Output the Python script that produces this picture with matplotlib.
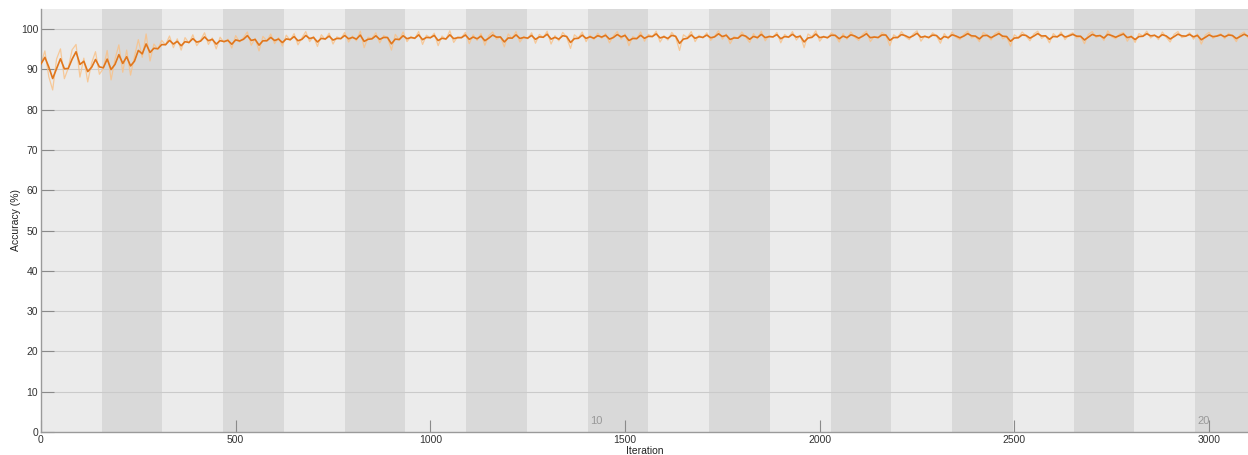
import numpy as np
import matplotlib
matplotlib.use('Agg')
import matplotlib.pyplot as plt

plt.rcParams['font.family'] = ['Liberation Sans', 'DejaVu Sans']

# 每个 epoch 的迭代次数
iters_per_epoch = 156
num_epochs = 20
sample_step = 10

# 训练准确率 (每 10 次迭代一个点)
accuracy = [
    91.4, 94.6, 88.2, 84.9, 92.6, 95.1, 87.7, 90.3, 94.9, 96.2, 88.1, 92.8, 86.9, 91.6, 94.4, 88.8,
    90.2, 94.7, 87.4, 92.5, 96.1, 89.3, 94.8, 88.6, 93.2, 97.4, 93.0, 98.8, 92.1, 96.3, 95.0, 97.2,
    96.1, 98.3, 95.4, 97.6, 94.8, 97.9, 96.5, 98.6, 95.9, 97.3, 99.1, 96.2, 97.8, 95.1, 98.0, 96.7,
    97.5, 95.3, 98.4, 96.8, 97.9, 99.3, 96.0, 97.7, 94.6, 98.2, 97.1, 98.8, 96.4, 97.9, 95.8, 98.5,
    97.2, 98.9, 96.1, 97.8, 99.4, 96.9, 98.2, 95.7, 98.6, 97.4, 99.0, 96.3, 98.1, 97.6, 99.2, 96.8,
    98.3, 97.1, 99.5, 95.4, 98.0, 97.7, 99.1, 96.6, 98.4, 97.9, 94.8, 98.7, 97.3, 99.3, 96.9, 98.2,
    97.6, 99.4, 96.2, 98.5, 97.8, 99.0, 95.9, 98.3, 97.4, 99.6, 96.7, 98.1, 97.9, 99.2, 96.4, 98.6,
    97.2, 98.9, 96.0, 98.4, 99.3, 97.5, 98.1, 95.6, 98.8, 97.7, 99.4, 96.8, 98.2, 97.6, 99.1, 96.5,
    98.7, 97.9, 99.5, 96.3, 98.4, 97.1, 99.2, 98.0, 95.2, 98.6, 97.8, 99.3, 96.9, 98.5, 97.4, 99.0,
    97.7, 98.9, 96.6, 98.3, 99.4, 97.5, 98.8, 95.9, 98.2, 97.6, 99.3, 97.0, 98.7, 98.1, 99.5, 96.8,
    98.4, 97.3, 99.2, 98.0, 94.7, 98.6, 97.9, 99.4, 96.9, 98.5, 97.8, 99.1, 97.2, 98.3, 99.6, 97.5,
    98.8, 96.4, 98.2, 97.7, 99.3, 98.0, 96.7, 98.9, 97.6, 99.5, 97.1, 98.4, 98.0, 99.2, 96.6, 98.7,
    97.9, 99.4, 97.3, 98.5, 95.4, 98.8, 98.1, 99.6, 97.0, 98.3, 97.7, 99.1, 98.4, 96.8, 98.9, 97.5,
    99.3, 98.0, 97.2, 98.7, 99.5, 96.9, 98.2, 97.8, 99.2, 98.5, 95.9, 98.6, 97.9, 99.4, 98.1, 97.4,
    98.8, 99.6, 97.0, 98.4, 97.7, 99.1, 98.3, 96.5, 98.9, 97.6, 99.3, 98.0, 97.4, 98.7, 99.5, 97.8,
    98.2, 96.9, 99.2, 98.5, 97.3, 98.9, 99.4, 97.6, 98.1, 95.8, 98.6, 97.9, 99.3, 98.3, 97.1, 98.8,
    99.5, 97.7, 98.4, 96.6, 98.9, 98.0, 99.3, 97.4, 98.6, 99.1, 97.8, 98.2, 96.4, 98.7, 99.4, 97.9,
    98.5, 97.2, 99.6, 98.1, 97.6, 98.8, 99.2, 97.0, 98.4, 96.7, 98.9, 98.3, 99.5, 97.8, 98.6, 97.4,
    99.3, 98.0, 96.8, 98.7, 99.4, 97.9, 98.2, 99.1, 97.5, 98.8, 96.3, 98.5, 99.2, 97.7, 98.4, 98.9,
    97.6, 99.0, 98.3, 96.9, 98.7, 99.3, 97.8, 98.5,
]
epoch_labels = [10, 20]

iterations = np.arange(len(accuracy)) * sample_step

# 指数平滑曲线
smooth = []
s = accuracy[0]
for a in accuracy:
    s = 0.5 * s + 0.5 * a
    smooth.append(s)

fig = plt.figure(figsize=(12.48, 4.55), dpi=100)
ax = fig.add_axes([41 / 1248, 23 / 455, 1 - 41 / 1248, 423 / 455])

# epoch 背景条纹
for e in range(num_epochs):
    color = '#ebebeb' if e % 2 == 0 else '#d9d9d9'
    ax.axvspan(e * iters_per_epoch, (e + 1) * iters_per_epoch, color=color, lw=0, zorder=0)

for y in range(10, 101, 10):
    ax.axhline(y, color='#cacaca', lw=0.8, zorder=1)

ax.plot(iterations, accuracy, color='#f8c28a', lw=0.9, alpha=0.85, zorder=2)
ax.plot(iterations, smooth, color='#e0761c', lw=1.2, zorder=3)

for ep in epoch_labels:
    ax.text((ep - 1) * iters_per_epoch + 5, 1.6, str(ep), color='#999999',
            fontsize=8, ha='left', va='bottom', zorder=4)

ax.set_xlim(0, 3100)
ax.set_ylim(0, 105)
ax.set_xticks(range(0, 3001, 500))
ax.set_yticks(range(0, 101, 10))
ax.tick_params(direction='in', length=9, width=0.8, color='#8a8a8a',
               labelsize=7.5, labelcolor='#333333', pad=2)
for side in ['top', 'right']:
    ax.spines[side].set_visible(False)
for side in ['left', 'bottom']:
    ax.spines[side].set_color('#9a9a9a')
    ax.spines[side].set_linewidth(1.0)

ax.set_xlabel('Iteration', fontsize=7.5, color='#222222', labelpad=1)
ax.set_ylabel('Accuracy (%)', fontsize=7.5, color='#222222', labelpad=0)

fig.savefig('out.png', dpi=100)
